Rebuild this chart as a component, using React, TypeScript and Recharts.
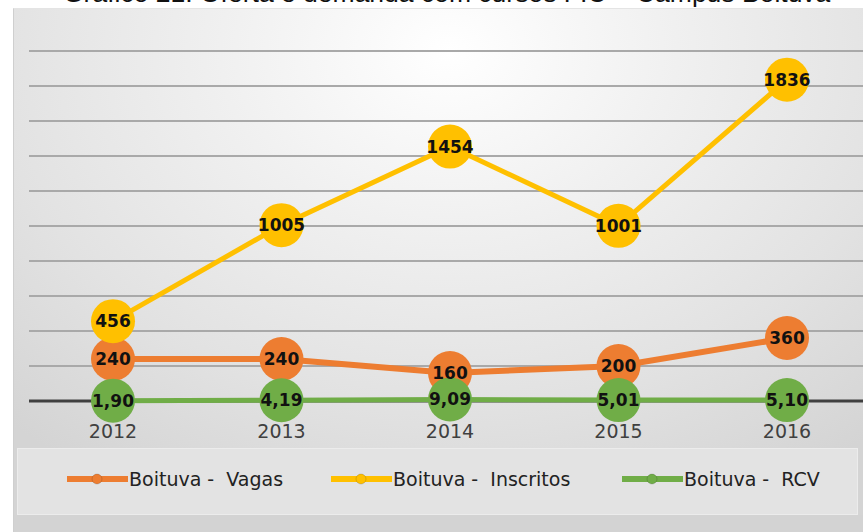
import React from 'react';
import { LineChart, Line, XAxis, YAxis, CartesianGrid, LabelList, Legend } from 'recharts';

const years = ['2012', '2013', '2014', '2015', '2016'];
const vagas = [240, 240, 160, 200, 360];
const inscritos = [456, 1005, 1454, 1001, 1836];
const rcv = [1.9, 4.19, 9.09, 5.01, 5.1];
const yTicks = [0, 200, 400, 600, 800, 1000, 1200, 1400, 1600, 1800, 2000];
const seriesNames = ['Boituva -  Vagas', 'Boituva -  Inscritos', 'Boituva -  RCV'];
const seriesColors = ['#ED7D31', '#FFC000', '#70AD47'];
const titleText = 'Gráfico 21: Oferta e demanda com cursos FIC – Campus Boituva';

const data = years.map((y, i) => ({ year: y, vagas: vagas[i], inscritos: inscritos[i], rcv: rcv[i] }));

const makeDot = (color: string) => (props: any) => {
  const { cx, cy, index } = props;
  if (cx == null || cy == null) return <g key={`d-${index}`} />;
  return <circle key={`d-${color}-${index}`} cx={cx} cy={cy} r={22} fill={color} stroke="none" />;
};

const makeLabel = (fmt: (v: number) => string) => (props: any) => {
  const { x, y, value, index } = props;
  return (
    <text
      key={`l-${index}`}
      x={x}
      y={y}
      textAnchor="middle"
      dominantBaseline="central"
      fontFamily="DejaVu Sans"
      fontWeight="bold"
      fontSize={17}
      fill="#111"
    >
      {fmt(Number(value))}
    </text>
  );
};

const intFmt = (v: number) => String(Math.round(v));
const decFmt = (v: number) => v.toFixed(2).replace('.', ',');

const gridLine = (props: any) => {
  const { x1, x2, y1, y2, index } = props;
  const isBase = index === 0;
  return (
    <line
      key={`g-${index}`}
      x1={x1}
      x2={x2}
      y1={y1}
      y2={y2}
      stroke={isBase ? '#404040' : '#a9a9a9'}
      strokeWidth={isBase ? 3 : 2}
    />
  );
};

const LegendContent = () => (
  <div
    style={{
      position: 'relative',
      height: '100%',
      fontFamily: 'DejaVu Sans',
      fontSize: 19,
      color: '#222',
    }}
  >
    {seriesNames.map((n, i) => (
      <div
        key={n}
        style={{
          display: 'flex',
          alignItems: 'center',
          position: 'absolute',
          top: 19,
          left: [49, 313, 604][i],
        }}
      >
        <svg width={61} height={14} style={{ display: 'block' }}>
          <line x1={1} y1={7} x2={60} y2={7} stroke={seriesColors[i]} strokeWidth={6} strokeLinecap="round" />
          <circle cx={30} cy={7} r={5} fill={seriesColors[i]} stroke="rgba(0,0,0,0.15)" strokeWidth={1} />
        </svg>
        <span style={{ whiteSpace: 'pre', marginLeft: 1 }}>{n}</span>
      </div>
    ))}
  </div>
);

export default function App() {
  return (
    <div
      style={{
        position: 'absolute',
        left: 0,
        top: 0,
        width: 863,
        height: 532,
        overflow: 'hidden',
        background: '#ffffff',
      }}
    >
      <svg width={863} height={10} style={{ position: 'absolute', left: 0, top: 0 }}>
        <text x={63} y={1.5} fontFamily="Liberation Sans" fontSize={26.5} fill="#111">
          {titleText}
        </text>
      </svg>
      <div
        style={{
          position: 'absolute',
          left: 13,
          top: 8,
          width: 870,
          height: 530,
          background:
            'radial-gradient(ellipse 75% 95% at 50% 8%, #ffffff 0%, #f0f0f0 35%, #e2e2e2 70%, #d4d4d4 100%)',
          borderLeft: '1px solid #cfcfcf',
          borderTop: '1px solid #e4e4e4',
        }}
      />
      <div
        style={{
          position: 'absolute',
          left: 14,
          top: 515,
          width: 870,
          height: 20,
          background: '#d3d3d3',
        }}
      />
      <div style={{ position: 'absolute', left: 0, top: 0 }}>
        <LineChart
          width={880}
          height={532}
          data={data}
          margin={{ top: 51, left: 29, right: 9, bottom: 101 }}
        >
          <CartesianGrid vertical={false} horizontal={gridLine} />
          <YAxis hide domain={[0, 2000]} ticks={yTicks} />
          <XAxis
            dataKey="year"
            tickLine={false}
            axisLine={false}
            tickMargin={18}
            padding={{ left: 84, right: 84 }}
            tick={{ fill: '#404040', fontSize: 19, fontFamily: 'DejaVu Sans' }}
            interval={0}
          />
          <Legend
            layout="horizontal"
            verticalAlign="middle"
            align="center"
            content={<LegendContent />}
            wrapperStyle={{
              position: 'absolute',
              left: 17,
              top: 448,
              width: 841,
              height: 67,
              background: '#e3e3e3',
              border: '1px solid #ececec',
              boxSizing: 'border-box',
            }}
          />
          <Line
            dataKey="vagas"
            name={seriesNames[0]}
            stroke={seriesColors[0]}
            strokeWidth={6}
            dot={makeDot(seriesColors[0])}
            activeDot={false}
            isAnimationActive={false}
          >
            <LabelList dataKey="vagas" content={makeLabel(intFmt)} />
          </Line>
          <Line
            dataKey="inscritos"
            name={seriesNames[1]}
            stroke={seriesColors[1]}
            strokeWidth={5}
            dot={makeDot(seriesColors[1])}
            activeDot={false}
            isAnimationActive={false}
          >
            <LabelList dataKey="inscritos" content={makeLabel(intFmt)} />
          </Line>
          <Line
            dataKey="rcv"
            name={seriesNames[2]}
            stroke={seriesColors[2]}
            strokeWidth={5}
            dot={makeDot(seriesColors[2])}
            activeDot={false}
            isAnimationActive={false}
          >
            <LabelList dataKey="rcv" content={makeLabel(decFmt)} />
          </Line>
        </LineChart>
      </div>
    </div>
  );
}
